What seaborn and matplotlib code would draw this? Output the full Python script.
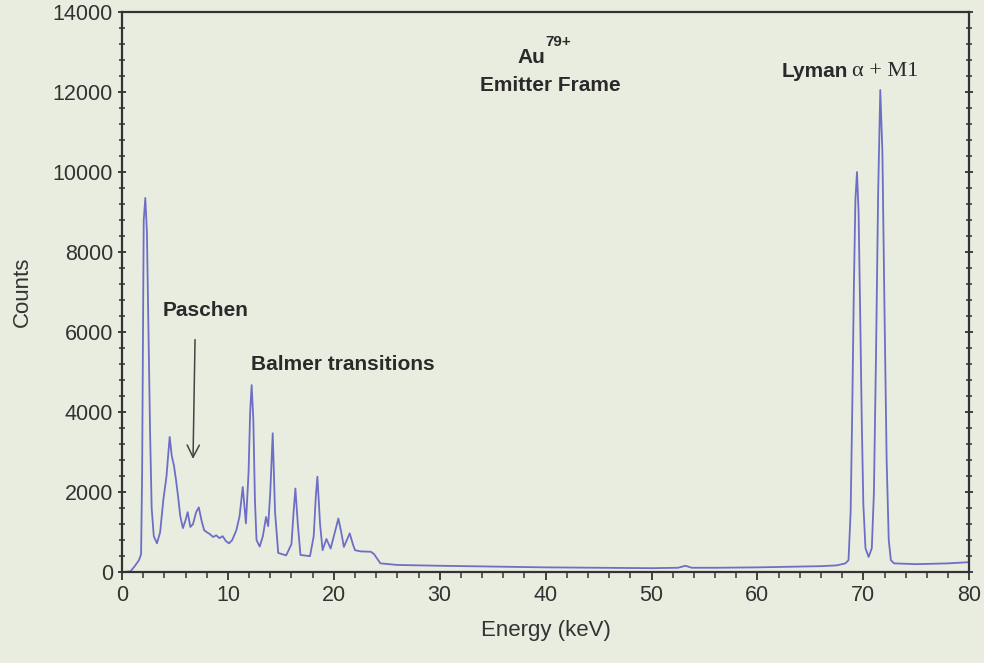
import numpy as np
import pandas as pd
import matplotlib
matplotlib.use("Agg")
import matplotlib.pyplot as plt
from matplotlib.ticker import MultipleLocator
import seaborn as sns

# spectrum (energy in keV, counts)
energy = [0.0, 0.8, 1.2, 1.6, 1.8, 1.9, 1.97, 2.05, 2.2, 2.35, 2.5, 2.65, 2.8, 3.0, 3.3,
          3.6, 3.9, 4.2, 4.5, 4.7, 4.9, 5.1, 5.3, 5.5, 5.75, 6.0, 6.2, 6.45, 6.7, 7.0,
          7.25, 7.5, 7.75, 8.0, 8.3, 8.6, 8.9, 9.2, 9.5, 9.8, 10.1, 10.4, 10.8, 11.1,
          11.4, 11.7, 11.95, 12.1, 12.24, 12.4, 12.55, 12.7, 13.0, 13.3, 13.6, 13.8,
          14.0, 14.23, 14.45, 14.75, 15.5, 16.0, 16.2, 16.37, 16.6, 16.85, 17.75, 18.1,
          18.3, 18.45, 18.7, 18.94, 19.3, 19.7, 20.1, 20.43, 20.7, 20.95, 21.5, 21.8,
          22.0, 22.5, 23.5, 23.8, 24.4, 26.0, 30.0, 35.0, 40.0, 45.0, 50.0, 52.5, 53.2,
          53.8, 56.0, 60.0, 64.0, 66.0, 67.5, 68.3, 68.6, 68.8, 68.95, 69.1, 69.25,
          69.4, 69.55, 69.7, 69.85, 70.0, 70.2, 70.5, 70.8, 71.0, 71.2, 71.4, 71.6,
          71.8, 72.0, 72.2, 72.4, 72.6, 72.9, 75.0, 78.0, 80.0]
counts = [0, 20, 150, 300, 450, 2500, 5500, 8800, 9350, 8500, 6000, 3500, 1600, 900, 720,
          1000, 1800, 2400, 3380, 2900, 2670, 2300, 1880, 1400, 1100, 1300, 1500, 1130, 1200, 1500,
          1620, 1300, 1050, 1000, 950, 880, 920, 850, 900, 780, 720, 800, 1050, 1400,
          2130, 1220, 2500, 4000, 4675, 3800, 1800, 800, 640, 900, 1380, 1150,
          2000, 3470, 1500, 480, 420, 700, 1500, 2090, 1200, 430, 400, 900,
          1900, 2385, 1200, 550, 830, 590, 1000, 1340, 1000, 630, 970, 700,
          550, 520, 510, 450, 220, 180, 160, 140, 120, 110, 100, 110, 160,
          110, 110, 120, 140, 150, 170, 220, 300, 1500, 4000, 7000, 9300,
          10000, 9000, 6500, 3800, 1700, 600, 380, 600, 2000, 5500, 9500, 12050,
          10500, 6500, 2800, 800, 300, 220, 200, 220, 250]

df = pd.DataFrame({"Energy": energy, "Counts": counts})

bg = "#e8ede0"
plt.rcParams["font.family"] = ["Liberation Sans", "DejaVu Sans"]

fig = plt.figure(figsize=(9.84, 6.63), dpi=100, facecolor=bg)
ax = fig.add_axes([0.124, 0.137, 0.861, 0.845])
ax.set_facecolor(bg)

sns.lineplot(data=df, x="Energy", y="Counts", ax=ax, color="#6e6ec6",
             linewidth=1.3, estimator=None)

ax.set_xlim(0, 80)
ax.set_ylim(0, 14000)
ax.xaxis.set_major_locator(MultipleLocator(10))
ax.xaxis.set_minor_locator(MultipleLocator(2))
ax.yaxis.set_major_locator(MultipleLocator(2000))
ax.yaxis.set_minor_locator(MultipleLocator(400))
ax.tick_params(which="both", direction="out", color="#333333", labelcolor="#333333",
               labelsize=15.5)
ax.tick_params(which="major", length=6, width=1.3)
ax.tick_params(which="minor", length=4, width=1.1)
ax.tick_params(axis="y", which="both", right=True, direction="inout")
for s in ax.spines.values():
    s.set_color("#333333")
    s.set_linewidth(1.6)

ax.set_xlabel("Energy (keV)", fontsize=16, color="#333333", labelpad=10)
ax.set_ylabel("Counts", fontsize=16, color="#333333", labelpad=14)

tc = "#2a2a2a"
ax.text(39.95, 12850, "Au", ha="right", va="center", fontsize=15,
        fontweight="bold", color=tc)
ax.text(40.0, 13250, "79+", ha="left", va="center", fontsize=11,
        fontweight="bold", color=tc)
ax.text(40.4, 12150, "Emitter Frame", ha="center", va="center", fontsize=15,
        fontweight="bold", color=tc)
ax.text(62.3, 12500, "Lyman", ha="left", va="center", fontsize=15,
        fontweight="bold", color=tc)
ax.text(68.9, 12500, "\u03b1 + M1", ha="left", va="center", fontsize=16,
        family=["Liberation Serif", "DejaVu Serif"], color=tc)
ax.text(3.8, 6530, "Paschen", ha="left", va="center", fontsize=15,
        fontweight="bold", color=tc)
ax.text(12.2, 5180, "Balmer transitions", ha="left", va="center", fontsize=15,
        fontweight="bold", color=tc)
ax.annotate("", xy=(6.7, 2760), xytext=(6.9, 5880),
            arrowprops=dict(arrowstyle="->", color="#444444", lw=1.1,
                            mutation_scale=22))

fig.savefig("out.png", dpi=100, facecolor=bg)
